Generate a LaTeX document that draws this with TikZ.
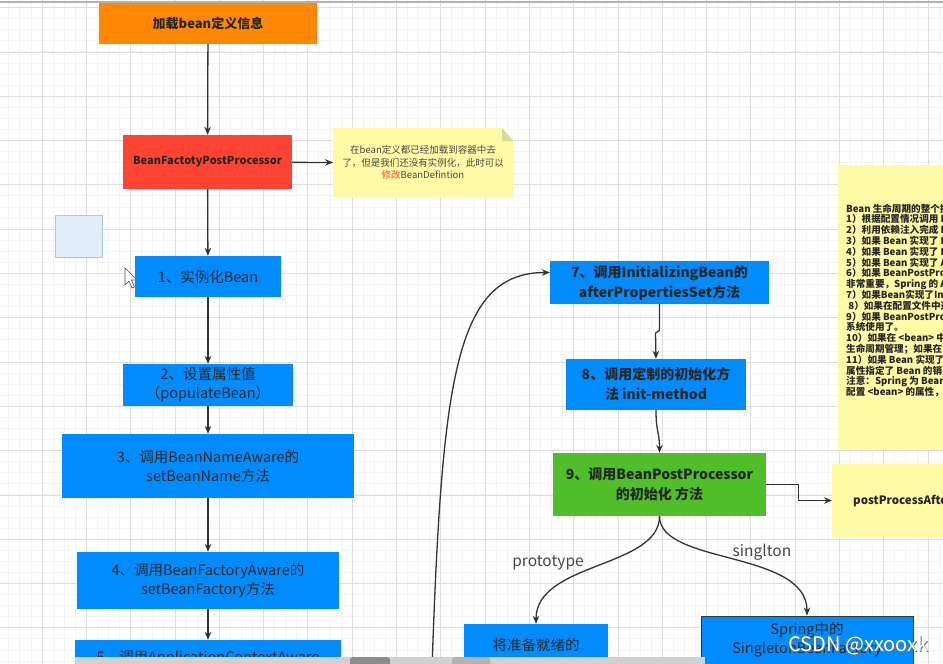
\documentclass[tikz,border=0pt]{standalone}
\usepackage{fontspec}
\setmainfont{Noto Sans CJK SC}
\usepackage{tikz}
\usetikzlibrary{arrows.meta}
\definecolor{loadorange}{RGB}{255,136,0}
\definecolor{bfppred}{RGB}{255,68,51}
\definecolor{stepblue}{RGB}{0,140,255}
\definecolor{initgreen}{RGB}{80,190,40}
\definecolor{noteyellow}{RGB}{255,250,165}
\definecolor{foldyellow}{RGB}{222,216,150}
\definecolor{linegray}{RGB}{51,51,51}
\definecolor{textgray}{RGB}{38,38,38}
\definecolor{selblue}{RGB}{226,237,250}
\definecolor{selborder}{RGB}{170,200,235}
\definecolor{gridminor}{RGB}{244,244,244}
\definecolor{gridmajor}{RGB}{222,222,222}

\begin{document}
\begin{tikzpicture}[x=1pt,y=-1pt,
  box/.style={rectangle, inner sep=2pt, align=center, text=textgray},
  stepbox/.style={box, fill=stepblue, font=\fontsize{14.5}{19}\selectfont},
  boldbox/.style={box, font=\fontsize{14}{20}\selectfont\bfseries},
  link/.style={draw=linegray, line width=1.3pt, -{Stealth[length=8pt,width=6.5pt]}},
  edgelabel/.style={text=textgray!85, font=\fontsize{15.5}{16}\selectfont}]
\useasboundingbox (0,0) rectangle (943,664);
\clip (0,0) rectangle (943,664);
% background grid
\fill[white] (0,0) rectangle (943,664);
\foreach \k in {0,...,86} \draw[gridminor, line width=0.8pt] ({-2.3+11.075*\k},0) -- ++(0,664);
\foreach \k in {0,...,61} \draw[gridminor, line width=0.8pt] (0,{-3.5+11.075*\k}) -- ++(943,0);
\foreach \k in {0,...,22} \draw[gridmajor, line width=0.8pt] ({-2.3+44.3*\k},0) -- ++(0,664);
\foreach \k in {0,...,15} \draw[gridmajor, line width=0.8pt] (0,{-36.7+44.3*\k}) -- ++(943,0);
\draw[gray!60, line width=1.2pt] (0,2) -- (943,2);

% left column
\node[boldbox, fill=loadorange, font=\fontsize{13}{16}\selectfont\bfseries, minimum width=218pt, minimum height=41pt] (load) at (208,23.5) {加载bean定义信息};
\node[boldbox, fill=bfppred, font=\fontsize{11}{14}\selectfont\bfseries, minimum width=169pt, minimum height=54pt] (bfpp) at (207.5,162) {BeanFactotyPostProcessor};
\fill[noteyellow] (333,128) -- (502,128) -- (513,141) -- (513,197) -- (333,197) -- cycle;
\fill[foldyellow] (502,128) -- (502,141) -- (513,141) -- cycle;
\node[box, text=textgray!85, font=\fontsize{9.5}{12.5}\selectfont, inner sep=0pt] (note1) at (423,162.5) {在bean定义都已经加载到容器中去\\了，但是我们还没有实例化，此时可以\\{\color{bfppred}修改}BeanDefintion};
\draw[fill=selblue, draw=selborder, line width=0.8pt] (55,215) rectangle (102,257);
\draw[fill=white, draw=black!70, line width=0.6pt] (125,268) -- (125,285) -- (129,281) -- (132,288) -- (134.5,287) -- (131.5,280) -- (137,280) -- cycle;
\node[stepbox, minimum width=146pt, minimum height=41pt] (b1) at (208,276.5) {1、实例化Bean};
\node[stepbox, minimum width=170pt, minimum height=42pt] (b2) at (208,385) {2、设置属性值\\（populateBean）};
\node[stepbox, minimum width=292pt, minimum height=64pt] (b3) at (208,466) {3、调用BeanNameAware的\\setBeanName方法};
\node[stepbox, minimum width=262pt, minimum height=57pt] (b4) at (208,580.5) {4、调用BeanFactoryAware的\\setBeanFactory方法};
\node[stepbox, minimum width=266pt, minimum height=36pt] (b5) at (208,658) {5、调用ApplicationContextAware};

\draw[link] (load) -- (bfpp);
\draw[link] (bfpp) -- (note1.west -| 333,0);
\draw[link] (bfpp) -- (b1);
\draw[link] (b1) -- (b2);
\draw[link] (b2) -- (b3);
\draw[link] (b3) -- (b4);
\draw[link] (b4) -- (b5);

% right column
\node[boldbox, fill=stepblue, minimum width=219pt, minimum height=43pt] (b7) at (659.5,282.5) {7、调用InitializingBean的\\afterPropertiesSet方法};
\node[boldbox, fill=stepblue, minimum width=180pt, minimum height=51pt] (b8) at (656,384.5) {8、调用定制的初始化方\\法 init-method};
\node[boldbox, fill=initgreen, minimum width=213pt, minimum height=63pt] (b9) at (659.5,484.5) {9、调用BeanPostProcessor\\的初始化 方法};
\node[box, anchor=west, fill=noteyellow, font=\fontsize{11.5}{14}\selectfont\bfseries, minimum height=73pt, inner xsep=21pt] (post) at (832,500.5) {postProcessAfterInitialization};
\fill[noteyellow] (838,165) rectangle (960,450);
\node[anchor=north west, align=left, inner sep=0pt, text=textgray, font=\fontsize{9.6}{10.8}\selectfont\bfseries] (lifecycle) at (846,203.5) {Bean 生命周期的整个执\\1）根据配置情况调用 B\\2）利用依赖注入完成 B\\3）如果 Bean 实现了 B\\4）如果 Bean 实现了 B\\5）如果 Bean 实现了 A\\6）如果 BeanPostPro\\非常重要，Spring 的 A\\7）如果Bean实现了In\\\ 8）如果在配置文件中通\\9）如果 BeanPostPro\\系统使用了。\\10）如果在 <bean> 中\\生命周期管理；如果在\\11）如果 Bean 实现了\\属性指定了 Bean 的销\\注意：Spring 为 Bean\\配置 <bean> 的属性，};
\node[stepbox, minimum width=144pt, minimum height=61pt] (pbox) at (536,654.5) {将准备就绪的\\Bean交给调用者};
\node[stepbox, draw=linegray, line width=1pt, minimum width=212pt, minimum height=62pt] (sbox) at (807,647) {Spring中的\\SingletonBeanFactory\\~};

\draw[link] (432,668) .. controls (442,380) and (455,272.5) .. ([yshift=10pt]b7.west);
\draw[link] (b7.south) -- ++(0,26) -- ++(-4,3) -- (b8.north);
\draw[link] (b8.south) .. controls (656,432) and (659.5,432) .. (b9.north);
\draw[link] (b9.east) -- ++(32,0) |- (post.west);
\draw[link] (b9.south) .. controls (659.5,568) and (536,562) .. (pbox.north);
\draw[link] (b9.south) .. controls (659.5,565) and (807,550) .. (sbox.north);
\node[edgelabel] (protolabel) at (548,563) {prototype};
\node[edgelabel] (singlabel) at (762,552) {singlton};

% screen overlay
\fill[black!18] (75,657) rectangle (705,666);
\fill[black!45, rounded corners=3pt] (350,657) rectangle (390,668);
\fill[black!30, rounded corners=3pt] (452,657) rectangle (490,668);
\node[font=\fontsize{20}{20}\selectfont, text=black!55] (wmshade) at (859.5,646.2) {CSDN @xxooxk};
\node[font=\fontsize{20}{20}\selectfont, text=white] (wm) at (858.5,645) {CSDN @xxooxk};
\end{tikzpicture}
\end{document}
